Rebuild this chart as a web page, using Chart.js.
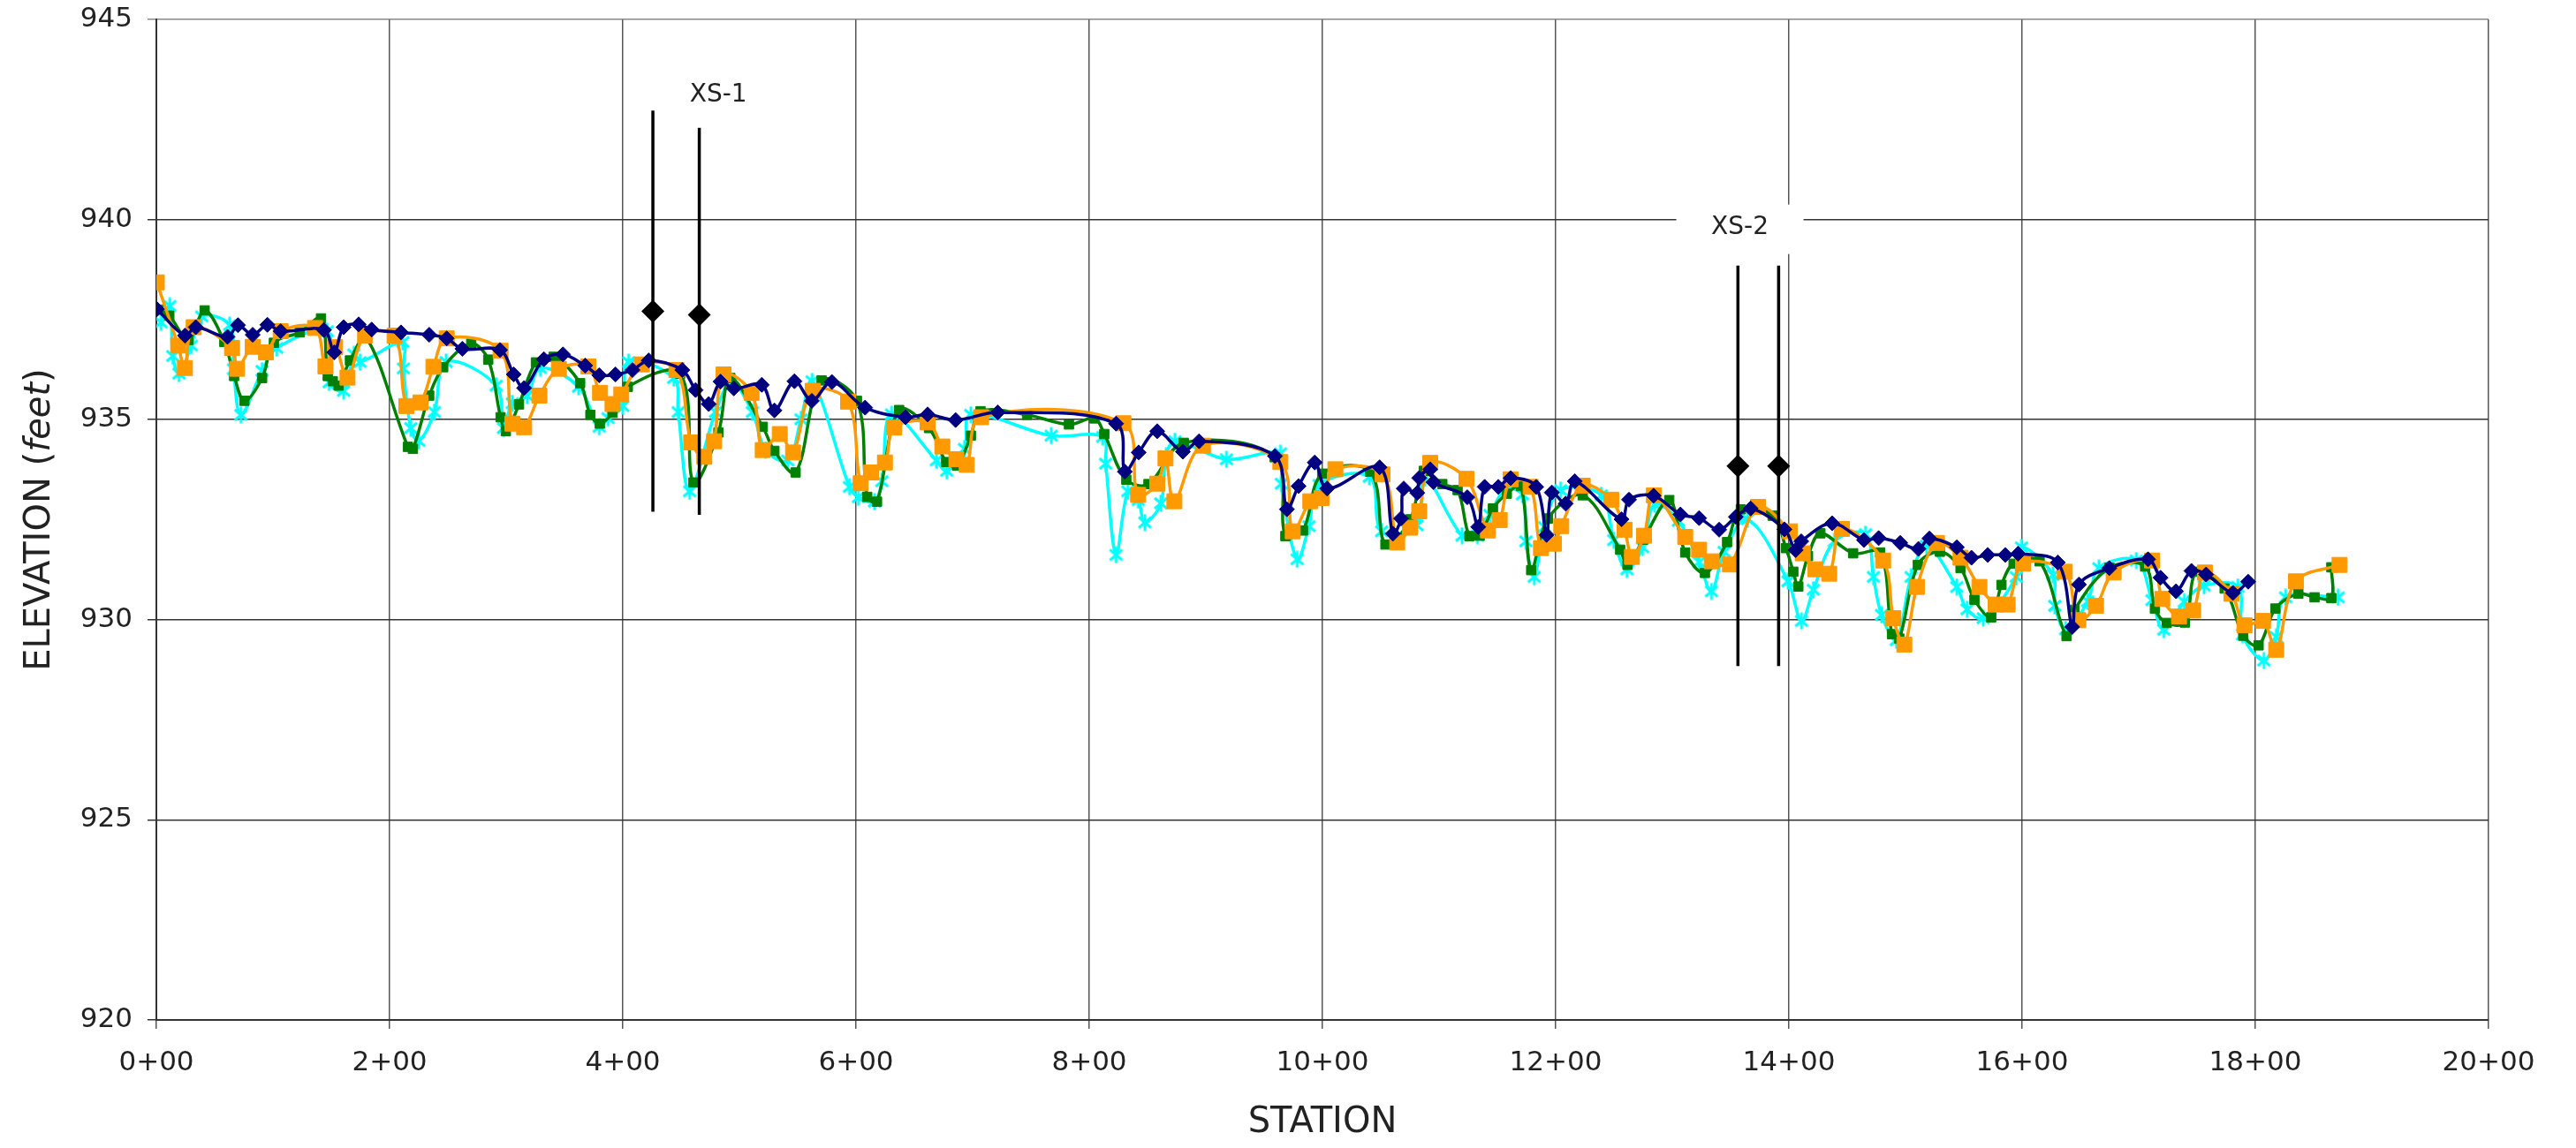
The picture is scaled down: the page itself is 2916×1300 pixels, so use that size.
<!DOCTYPE html>
<html><head><meta charset="utf-8">
<script src="https://cdn.jsdelivr.net/npm/chart.js@4.4.1/dist/chart.umd.min.js"></script>
<style>html,body{margin:0;padding:0;background:#fff}canvas{display:block}</style>
</head><body>
<canvas id="c" width="2916" height="1300"></canvas>
<script>
// ---------------- DATA ----------------
const xTickLabels = ['0+00','2+00','4+00','6+00','8+00','10+00','12+00','14+00','16+00','18+00','20+00'];

const navyStation = [0.5,24.5,33.8,61,70,82.6,95.2,106.6,143.7,152.5,160.6,173.5,184.6,209.8,234,249,262.4,294.7,306.5,315.4,332.3,348.7,367.7,379.8,393.7,408.3,422.2,451,462.4,473.7,483.8,495.2,519.2,530,547.2,562.1,579.3,607.8,642.4,661.4,685.4,721.5,823,830.5,842.4,858.3,880.3,894.2,959.3,969.5,979.5,993.4,1004,1049,1060.4,1067.4,1069.7,1081.3,1083,1092.4,1095.2,1124.2,1133.6,1139.1,1150.8,1161.4,1183.3,1192.2,1196.7,1208.6,1216.4,1256.5,1262.9,1284,1307,1323,1340.2,1354.5,1367.2,1396.2,1405.8,1410.6,1437.1,1464.4,1477,1495.5,1511.1,1520.5,1544,1556.6,1570.5,1585.6,1596.5,1630.6,1643,1648.7,1674.8,1708,1718.7,1732,1745.2,1757.8,1780.8,1793.9];
const navyElev = [937.76,937.10,937.31,937.07,937.36,937.12,937.37,937.21,937.24,936.68,937.31,937.38,937.25,937.18,937.12,937.03,936.77,936.74,936.13,935.79,936.51,936.63,936.35,936.11,936.13,936.24,936.48,936.24,935.74,935.39,935.95,935.78,935.87,935.23,935.96,935.47,935.94,935.30,935.06,935.13,934.99,935.18,934.90,933.70,934.18,934.71,934.20,934.46,934.09,932.76,933.34,933.93,933.28,933.81,932.15,932.53,933.28,933.17,933.54,933.76,933.44,933.06,932.32,933.32,933.32,933.54,933.32,932.12,933.18,932.90,933.46,932.51,933.00,933.10,932.63,932.54,932.25,932.57,932.78,932.26,931.74,931.96,932.41,931.99,932.04,931.92,931.77,932.03,931.81,931.55,931.62,931.62,931.65,931.43,929.82,930.88,931.29,931.51,931.05,930.71,931.22,931.13,930.67,930.95];

const greenStation = [2,11.1,27.5,41.4,58.3,66.7,75.5,90.7,100.8,123,141.2,147,151.3,156.3,166,180,215.7,220,234,246,270,284.6,295.2,299.7,311,325.5,340.7,363.4,372.2,380.3,391.2,404.3,449.2,460.6,482,492.2,520,530,548.2,570.5,600.8,609.6,618,637,662.6,677.3,686.6,698.5,706.8,746.7,782.6,804.5,812.9,831.8,850.8,881.1,959,968.2,983.3,999.8,1040.9,1054,1075.5,1086.9,1102.8,1115.9,1126,1134.8,1146.2,1158.1,1170.2,1179,1193.4,1223.2,1255.3,1261.6,1275,1297.4,1311.1,1328,1347,1358.8,1386.1,1397.5,1403.8,1408.1,1416.4,1427,1455.1,1478.3,1488.4,1494.7,1510.6,1529.5,1547.2,1559.1,1573.5,1582.3,1592.7,1615,1638.1,1645,1675,1705.5,1713.9,1724,1739.6,1749.7,1773.7,1789.6,1802.8,1817.2,1836.9,1850.8,1865.2,1865.2];
const greenElev = [937.75,937.60,936.99,937.73,936.94,936.09,935.47,936.04,936.92,937.18,937.53,936.09,935.96,935.85,936.48,937.05,934.32,934.27,935.60,936.31,936.90,936.50,935.06,934.71,935.38,936.43,936.57,935.91,935.12,934.90,935.17,935.82,936.15,933.43,934.68,936.04,934.82,934.22,933.68,935.98,935.47,933.07,932.95,935.24,934.79,933.94,933.85,934.60,935.21,935.12,934.88,935.03,934.64,933.50,933.39,934.42,934.06,932.09,932.23,933.65,933.70,931.88,932.51,933.72,933.39,933.24,932.09,932.10,932.78,933.15,933.34,931.24,932.53,933.11,931.75,931.37,932.00,932.99,931.68,931.17,931.94,932.76,932.60,931.79,931.20,930.83,931.59,932.16,931.66,931.68,929.64,929.53,931.37,931.70,931.29,930.50,930.06,930.87,931.40,931.46,929.59,930.25,931.30,931.33,930.28,929.92,929.93,931.20,930.78,929.60,929.36,930.28,930.65,930.56,930.54,931.31];

const orangeStation = [0.4,18.7,24.5,32,64.9,69.2,82.6,94,106.6,136.1,145,153.3,163.9,179,204.3,214.4,226.5,237.6,249,295.2,305.3,315.4,328.5,345.2,370.5,380.5,391.2,398.7,416.4,446,458.6,469.9,478.3,486.4,510.4,520,534.6,546,562.9,593.2,604,612.9,624.8,632.8,661.4,674,686.1,694.9,707.3,829.3,841.9,858.3,865.4,873,897.5,963.9,974.5,989.6,999.2,1011.1,1051.5,1064.1,1075,1083,1092.4,1123.5,1141.9,1152,1161.4,1178.5,1187.4,1198.5,1204.8,1223.2,1247.7,1259.1,1265.4,1275.8,1284.2,1311.1,1323,1333.8,1349.5,1373.5,1400.8,1411.9,1422.7,1434.6,1445.5,1480.8,1489.6,1499,1509.8,1527,1547.2,1563.4,1577.3,1587.6,1600.8,1636.6,1648.2,1663.4,1678.5,1711.4,1720.2,1734.6,1746.7,1756.8,1779.5,1790.7,1806.6,1817.9,1834.8,1872.2];
const orangeElev = [938.43,936.85,936.29,937.31,936.79,936.27,936.82,936.68,937.21,937.29,936.33,936.81,936.05,937.10,937.10,935.34,935.43,936.32,937.03,936.72,934.90,934.81,935.60,936.27,936.33,935.67,935.39,935.63,936.38,936.24,934.43,934.07,934.46,936.13,935.67,934.24,934.64,934.18,935.72,935.45,933.41,933.68,933.93,934.80,934.93,934.33,934.01,933.87,935.06,934.91,933.12,933.40,934.03,932.96,934.35,933.94,932.21,932.96,933.04,933.76,933.63,931.93,932.30,932.71,933.92,933.52,932.23,932.49,933.51,933.32,931.79,931.90,932.34,933.35,933.00,932.25,931.57,932.10,933.11,932.07,931.75,931.46,931.38,932.82,932.21,931.66,931.26,931.15,932.27,931.48,930.04,929.38,930.82,931.92,931.55,930.82,930.38,930.38,931.40,931.20,929.99,930.35,931.18,931.48,930.52,930.08,930.23,931.18,930.65,929.86,929.97,929.25,930.96,931.37];

const cyanStation = [4,11.6,14.1,19.4,30,38.9,62.9,66.2,72.5,90.7,103.3,146.5,148.2,160.6,169.4,174.7,211.4,211.9,218.2,225,238.4,248.5,291.4,297.7,305.3,318,329.3,362.1,379.8,387.4,400,405,443.7,447.5,457.3,479.5,493.4,511.1,522.5,541.4,552.8,562.4,594.4,602,615.9,622.2,630.5,669,677.8,693,698.5,767.4,811.6,814.1,823,833.1,842,847.7,861.4,865.9,873.5,917.7,964,964.8,978.3,988.4,997.2,1040.2,1050.8,1081.1,1088.1,1119.7,1133,1143.7,1156.3,1171.5,1174.5,1181.6,1190.4,1204.3,1239.2,1249.8,1261.1,1274.5,1285,1305.3,1323,1333.6,1344.5,1364.6,1399.2,1410.8,1421,1439.1,1465.7,1472.5,1479.5,1492.2,1504.8,1518,1544,1552.8,1566.7,1594.9,1599.5,1626.5,1628,1637.4,1656.3,1665.9,1698,1711.4,1721.5,1739.1,1756.1,1785.1,1789,1807.3,1817.9,1826,1871];
const cyanElev = [937.43,937.84,936.59,936.15,936.85,937.58,937.36,936.26,935.12,936.22,936.79,937.21,935.93,935.72,936.63,936.44,936.94,936.28,934.79,934.47,935.19,936.44,935.85,934.79,935.41,935.60,936.29,935.82,934.82,935.04,935.34,936.44,936.04,935.19,933.21,935.19,935.93,935.19,934.24,933.98,935.01,935.96,933.32,933.06,932.95,933.46,935.13,933.98,933.72,934.27,935.12,934.60,934.57,933.90,931.62,933.21,932.99,932.43,932.91,934.09,934.46,934.01,934.16,933.40,931.51,932.34,933.37,933.57,932.21,932.36,933.54,932.10,932.10,932.62,933.24,933.13,931.96,931.07,932.32,933.24,933.11,931.99,931.26,931.81,932.88,932.47,931.44,930.71,931.70,932.51,930.96,929.97,930.75,931.96,932.14,931.07,930.12,929.49,931.07,931.85,930.82,930.26,930.04,931.07,931.81,931.12,930.35,929.76,930.46,931.29,931.48,930.49,929.75,930.45,930.85,930.82,929.63,928.98,929.57,930.56,930.56];

// cross-section marker lines (top, marker, bottom)
const xsLabels = ['XS-1','XS-2'];
const xsLabelStation = [482, 1358];
const xsLabelElev = [943.1, 939.8];
const xs1aStation = 425.8, xs1aElev = [942.72, 937.71, 932.70];
const xs1bStation = 465.6, xs1bElev = [942.29, 937.62, 932.62];
const xs2aStation = 1356.3, xs2aElev = [938.85, 933.84, 928.84];
const xs2bStation = 1391.2, xs2bElev = [938.85, 933.84, 928.84];

const yTitleParts = [['ELEVATION (', 'normal'], ['feet', 'italic'], [')', 'normal']];
const xTitle = 'STATION';

// ---------------- BUILD ----------------
const FONT = '"DejaVu Sans", "Liberation Sans", sans-serif';
const pts = (s, e) => s.map((x, i) => ({x, y: e[i]}));
const vline = (st, el) => el.map(y => ({x: st, y}));

// asterisk marker (X with vertical bar)
function makeStar(color, size, lw) {
  const c = document.createElement('canvas');
  c.width = size; c.height = size;
  const g = c.getContext('2d');
  g.strokeStyle = color; g.lineWidth = lw; g.lineCap = 'butt';
  const m = lw, h = size / 2;
  g.beginPath();
  g.moveTo(m, m + 1); g.lineTo(size - m, size - m - 1);
  g.moveTo(size - m, m + 1); g.lineTo(m, size - m - 1);
  g.moveTo(h, 0.5); g.lineTo(h, size - 0.5);
  g.stroke();
  return c;
}
const starImg = makeStar('#00FFFF', 20, 3);

function xsDataset(st, el) {
  return {
    data: vline(st, el), borderColor: '#000', borderWidth: 3.5, tension: 0,
    pointStyle: 'rectRot', pointRadius: [0, 13, 0], pointHoverRadius: [0, 13, 0],
    pointBackgroundColor: '#000', pointBorderColor: '#000', pointBorderWidth: 0, order: 0
  };
}

const annotPlugin = {
  id: 'annot',
  afterDraw(chart) {
    const ctx = chart.ctx, xs = chart.scales.x, ys = chart.scales.y, ca = chart.chartArea;
    ctx.save();
    ctx.font = '28px ' + FONT;
    ctx.textAlign = 'center'; ctx.textBaseline = 'middle';
    xsLabels.forEach((t, i) => {
      const px = xs.getPixelForValue(xsLabelStation[i]);
      const py = ys.getPixelForValue(xsLabelElev[i]);
      ctx.fillStyle = '#fff';
      ctx.fillRect(px - 72, py - 26, 144, 56);
      ctx.fillStyle = '#222';
      ctx.fillText(t, px, py);
    });
    ctx.translate(46, (ca.top + ca.bottom) / 2);
    ctx.rotate(-Math.PI / 2);
    ctx.textAlign = 'left'; ctx.textBaseline = 'middle'; ctx.fillStyle = '#222';
    const fonts = yTitleParts.map(p => (p[1] === 'italic' ? 'italic ' : '') + '40px ' + FONT);
    let total = 0;
    const widths = yTitleParts.map((p, i) => { ctx.font = fonts[i]; const w = ctx.measureText(p[0]).width; total += w; return w; });
    let x = -total / 2;
    yTitleParts.forEach((p, i) => { ctx.font = fonts[i]; ctx.fillText(p[0], x, 0); x += widths[i]; });
    ctx.restore();
  }
};

new Chart(document.getElementById('c'), {
  type: 'line',
  data: {
    datasets: [
      xsDataset(xs1aStation, xs1aElev),
      xsDataset(xs1bStation, xs1bElev),
      xsDataset(xs2aStation, xs2aElev),
      xsDataset(xs2bStation, xs2bElev),
      { data: pts(navyStation, navyElev), borderColor: '#000080', borderWidth: 3.5, tension: 0.35,
        pointStyle: 'rectRot', pointRadius: 8.5, pointBackgroundColor: '#000080', pointBorderColor: '#000080', pointBorderWidth: 1, order: 1 },
      { data: pts(orangeStation, orangeElev), borderColor: '#FF9900', borderWidth: 3.5, tension: 0.35,
        pointStyle: 'rect', pointRadius: 12, pointBackgroundColor: '#FF9900', pointBorderColor: '#FF9900', pointBorderWidth: 1, order: 2 },
      { data: pts(greenStation, greenElev), borderColor: '#008000', borderWidth: 3.5, tension: 0.35,
        pointStyle: 'rect', pointRadius: 7.5, pointBackgroundColor: '#008000', pointBorderColor: '#008000', pointBorderWidth: 1, order: 3 },
      { data: pts(cyanStation, cyanElev), borderColor: '#00FFFF', borderWidth: 3.5, tension: 0.35,
        pointStyle: starImg, pointRadius: 10, order: 4 }
    ]
  },
  options: {
    responsive: false, animation: false, events: [],
    layout: { padding: { top: 22, right: 99, bottom: 0, left: 0 } },
    plugins: { legend: { display: false }, tooltip: { enabled: false } },
    scales: {
      x: {
        type: 'linear', min: 0, max: 2000,
        afterFit(s) { s.height = 145; s.paddingLeft = 0; s.paddingRight = 0; },
        ticks: { stepSize: 200, autoSkip: false, maxRotation: 0, padding: 20, color: '#222',
          font: { family: FONT, size: 31 },
          callback: v => xTickLabels[Math.round(v / 200)] },
        grid: { color: '#555', lineWidth: 1.5, tickLength: 10, drawTicks: true },
        border: { color: '#333', width: 2 },
        title: { display: true, text: xTitle, color: '#222', font: { family: FONT, size: 40 }, padding: { top: 0, bottom: 4 } }
      },
      y: {
        type: 'linear', min: 920, max: 945,
        afterFit(s) { s.width = 177; s.paddingTop = 0; s.paddingBottom = 0; },
        ticks: { stepSize: 5, padding: 17, color: '#222', font: { family: FONT, size: 31 } },
        grid: { color: c => (c.tick && c.tick.value === 945 ? '#888' : '#333'), lineWidth: 1.5, tickLength: 10 },
        border: { color: '#333', width: 2 }
      }
    }
  },
  plugins: [annotPlugin]
});
</script>
</body></html>
